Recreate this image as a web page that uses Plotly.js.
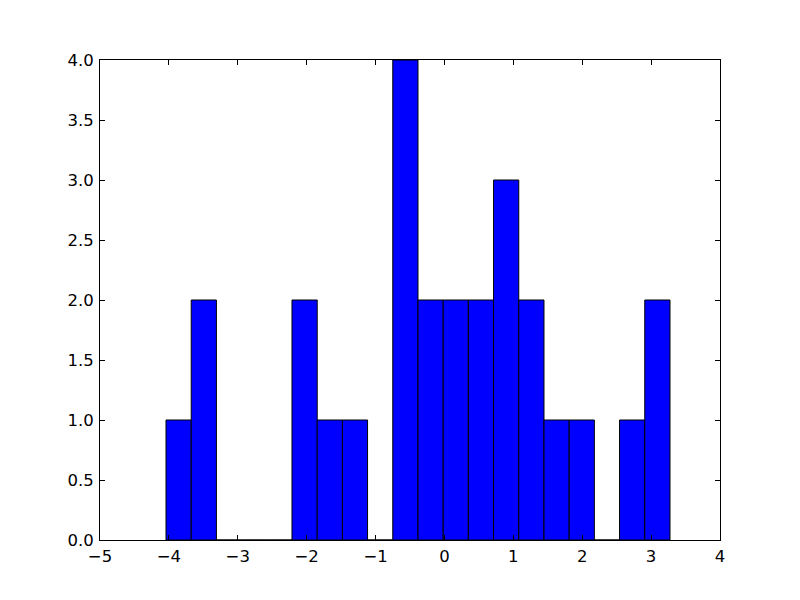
<!DOCTYPE html>
<html>
<head>
<meta charset="utf-8">
<script src="https://cdn.plot.ly/plotly-3.0.1.min.js"></script>
<style>html,body{margin:0;padding:0;background:#fff;}#chart{width:800px;height:600px;}</style>
</head>
<body>
<div id="chart"></div>
<script>
// Histogram bin edges (21 edges -> 20 bins) and counts
const binEdges = [-4.042, -3.676, -3.310, -2.945, -2.579, -2.213, -1.847, -1.481, -1.116, -0.750,
                  -0.384, -0.018, 0.347, 0.713, 1.079, 1.445, 1.811, 2.176, 2.542, 2.908, 3.274];
const counts = [1, 2, 0, 0, 0, 2, 1, 1, 0, 4, 2, 2, 2, 3, 2, 1, 1, 0, 1, 2];
const xTicks = [-5, -4, -3, -2, -1, 0, 1, 2, 3, 4];
const yTicks = [0, 0.5, 1, 1.5, 2, 2.5, 3, 3.5, 4];

const centers = counts.map((_, i) => (binEdges[i] + binEdges[i + 1]) / 2);
const widths = counts.map((_, i) => binEdges[i + 1] - binEdges[i]);

const trace = {
  type: 'bar',
  x: centers,
  y: counts,
  width: widths,
  marker: { color: '#0000ff', line: { color: '#000000', width: 1 } },
  hoverinfo: 'x+y'
};

const axisCommon = {
  showgrid: false,
  zeroline: false,
  showline: true,
  linecolor: '#000',
  linewidth: 1,
  mirror: 'ticks',
  ticks: 'inside',
  ticklen: 5,
  tickwidth: 1,
  tickcolor: '#000',
  tickfont: { family: 'DejaVu Sans', size: 16.5, color: '#000' }
};

const layout = {
  width: 800,
  height: 600,
  margin: { l: 100, r: 80, t: 60, b: 60 },
  paper_bgcolor: '#fff',
  plot_bgcolor: '#fff',
  showlegend: false,
  bargap: 0,
  xaxis: Object.assign({}, axisCommon, {
    range: [-5, 4],
    tickmode: 'array',
    tickvals: xTicks,
    ticktext: xTicks.map(v => v < 0 ? '\u2212' + Math.abs(v) : String(v)),
    ticklabelstandoff: 1
  }),
  yaxis: Object.assign({}, axisCommon, {
    range: [0, 4],
    tickmode: 'array',
    tickvals: yTicks,
    ticktext: yTicks.map(v => v.toFixed(1)),
    ticklabelstandoff: 2
  })
};

Plotly.newPlot('chart', [trace], layout, { displayModeBar: false, staticPlot: true });
</script>
</body>
</html>
